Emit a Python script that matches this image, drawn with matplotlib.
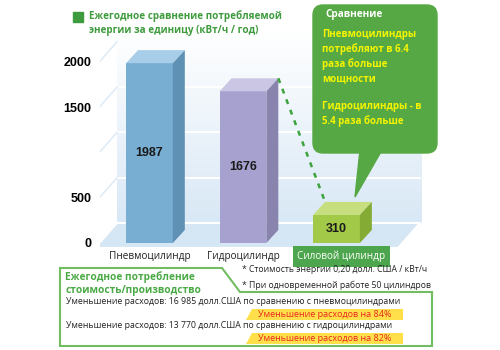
import numpy as np
import matplotlib
matplotlib.use('Agg')
import matplotlib.pyplot as plt
from matplotlib.patches import Polygon, FancyBboxPatch, Rectangle
from matplotlib.colors import LinearSegmentedColormap

# data
categories = ['Пневмоцилиндр', 'Гидроцилиндр', 'Силовой цилиндр']
energy = [1987, 1676, 310]
yticks = [0, 500, 1500, 2000]
gridvals = [0, 500, 1000, 1500, 2000]
ratios = [6.4, 5.4]
savings = ['16 985', '13 770']
compared = ['пневмоцилиндрами', 'гидроцилиндрами']
percent = [84, 82]
notes = ['Стоимость энергии 0,20 долл. США / кВт/ч', 'При одновременной работе 50 цилиндров']

front_cols = ['#79AED3', '#A6A1CE', '#A2C948']
side_cols = ['#5F91B5', '#8984AD', '#84AB33']
top_cols = ['#A8CDE9', '#CAC6E3', '#C6DE7E']

TXT = ['Open Sans', 'DejaVu Sans']
NUM = ['Liberation Sans', 'DejaVu Sans']
GREEN = '#3E9B3E'

fig = plt.figure(figsize=(5, 3.5), dpi=100)
ax = fig.add_axes([0.2, 88/350, 0.66, 232/350])

# depth of the bars and of the room (data units)
w = 0.5
ddx, ddy = 0.128, 144
fdx, fdy = 0.235, 276   # floor depth
fx0, fx1 = -0.583, 2.658
fy = -55

# back wall with gradient
cmap = LinearSegmentedColormap.from_list('wall', ['#FFFFFF', '#D9E8F6'])
grad = np.linspace(0, 1, 100).reshape(-1, 1)
ax.imshow(grad, extent=[fx0 + fdx, fx1 + fdx + 0.02, fy + fdy, 2350], aspect='auto',
          cmap=cmap, origin='upper', zorder=0)
for g in gridvals:
    ax.plot([fx0 + fdx, fx1 + fdx], [g + fy + fdy, g + fy + fdy], color='white', lw=1.4, zorder=1)
    ax.plot([fx0, fx0 + fdx], [g + fy, g + fy + fdy], color='#E0ECF7', lw=1.2, zorder=1)

# floor
ax.add_patch(Polygon([(fx0, fy), (fx1, fy), (fx1 + fdx, fy + fdy), (fx0 + fdx, fy + fdy)],
                     closed=True, fc='#D5E6F5', ec='white', lw=1.5, zorder=1))

# bars
x = np.arange(len(energy))
ax.bar(x, energy, width=w, color=front_cols, zorder=3)
for i, v in enumerate(energy):
    l, r = i - w / 2, i + w / 2
    ax.add_patch(Polygon([(l, v), (r, v), (r + ddx, v + ddy), (l + ddx, v + ddy)],
                         closed=True, fc=top_cols[i], ec='none', zorder=3))
    ax.add_patch(Polygon([(r, 0), (r + ddx, ddy), (r + ddx, v + ddy), (r, v)],
                         closed=True, fc=side_cols[i], ec='none', zorder=3))
    ax.text(i, v / 2, str(v), ha='center', va='center', fontsize=9, fontweight='bold',
            family=NUM, color='#1A1A1A', zorder=4)

# dashed link between the hydro bar and the power cylinder
ax.plot([1 + w / 2 + ddx, 2 - w / 2 + ddx], [energy[1] + ddy, energy[2] + ddy],
        ls=(0, (2, 2.5)), color='#3DA33D', lw=1.8, zorder=4)

# category labels
for i, c in enumerate(categories):
    if i == 2:
        ax.text(i + 0.05, -150, c, ha='center', va='center', fontsize=7.2, family=TXT, color='white',
                bbox=dict(boxstyle='square,pad=0.45', fc='#4DA64D', ec='none'), zorder=5)
    else:
        ax.text(i, -150, c, ha='center', va='center', fontsize=7.2, family=TXT, color='#222222', zorder=5)

ax.set_xlim(-0.529, 3.0)
ax.set_ylim(-210, 2353.6)
ax.set_yticks(yticks)
ax.set_yticklabels([str(t) for t in yticks], fontsize=9, fontweight='bold', family=NUM)
ax.set_xticks([])
ax.tick_params(axis='y', length=0, pad=6)
for s in ax.spines.values():
    s.set_visible(False)
ax.set_facecolor('none')

# overlay in pixel coordinates for the annotations
ov = fig.add_axes([0, 0, 1, 1], zorder=5)
ov.set_xlim(0, 500)
ov.set_ylim(350, 0)
ov.axis('off')
ov.set_facecolor('none')

# title
ov.add_patch(Rectangle((73, 12), 10, 10, color=GREEN))
ov.text(89, 10, 'Ежегодное сравнение потребляемой\nэнергии за единицу (кВт/ч / год)',
        ha='left', va='top', fontsize=7.1, fontweight='bold', family=TXT, color=GREEN, linespacing=1.4)

# callout
cc = '#56A845'
ov.add_patch(FancyBboxPatch((313, 5), 124, 148, boxstyle='round,pad=0,rounding_size=10',
                            fc=cc, ec=cc))
ov.add_patch(Polygon([(360, 150), (382, 150), (355, 197)], closed=True, fc=cc, ec=cc))
ov.text(325, 15, 'Сравнение', ha='left', va='center', fontsize=7.2, fontweight='bold',
        family=TXT, color='white')
callout = ('Пневмоцилиндры\nпотребляют в {}\nраза больше\nмощности\n\n'
           'Гидроцилиндры - в\n{} раза больше').format(ratios[0], ratios[1])
ov.text(322, 29, callout, ha='left', va='top', fontsize=7, fontweight='bold',
        family=TXT, color='#F4F400', linespacing=1.36)

# bottom panel
pc = '#72BC62'
ov.add_patch(Polygon([(60, 268), (222, 268), (240, 292), (432, 292), (432, 346), (60, 346)],
                     closed=True, fc='white', ec=pc, lw=1.5))
ov.text(65, 271, 'Ежегодное потребление\nстоимость/производство', ha='left', va='top',
        fontsize=7.3, fontweight='bold', family=TXT, color='#4AAA45', linespacing=1.3)
for k, n in enumerate(notes):
    ov.text(242, 270 + 15 * k, '* ' + n, ha='left', va='center', fontsize=6.2, family=TXT, color='#222222')
for k in range(2):
    y0 = 302 + 24 * k
    ov.text(66, y0, 'Уменьшение расходов: {} долл.США по сравнению с {}'.format(savings[k], compared[k]),
            ha='left', va='center', fontsize=6.3, family=TXT, color='#222222')
    ov.add_patch(Polygon([(252, y0 + 7), (403, y0 + 7), (403, y0 + 18), (246, y0 + 18)],
                         closed=True, fc='#FFE04A', ec='none'))
    ov.text(325, y0 + 12.5, 'Уменьшение расходов на {}%'.format(percent[k]), ha='center', va='center',
            fontsize=6.5, family=TXT, color='#E8231E')

fig.savefig('out.png', dpi=100)
